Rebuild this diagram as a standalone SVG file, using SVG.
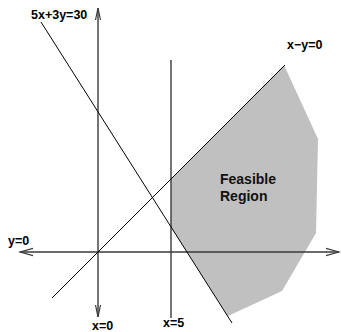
<svg xmlns="http://www.w3.org/2000/svg" width="341" height="332" viewBox="0 0 341 332">
<style>
.axis{stroke:#3a3a3a;stroke-width:1.4;fill:none}
.line{stroke:#000;stroke-width:1;fill:none}
.head{stroke:#3a3a3a;stroke-width:1.2;fill:none}
.lbl{font-family:"Liberation Sans",Arial,sans-serif;font-weight:bold;font-size:12.5px;fill:#000}
.big{font-family:"Liberation Sans",Arial,sans-serif;font-weight:bold;font-size:14px;fill:#111}
</style>
<rect width="341" height="332" fill="#fff"/>
<g id="region">
<polygon points="171,179 284,65 318,139 316,233 282,291 228,316 171,227" fill="#c0c0c0"/>
<text class="big" x="220" y="183.5">Feasible</text>
<text class="big" x="220" y="200.5">Region</text>
</g>
<g id="connectors">
<line class="axis" x1="98" y1="8" x2="98" y2="317"/>
<path class="head" d="M95.5,20 L98,8 L100.5,20"/>
<path class="head" d="M95.5,305 L98,317 L100.5,305"/>
<line class="axis" x1="20" y1="252" x2="339" y2="252"/>
<path class="head" d="M33,248.3 L20,252 L33,255.7"/>
<path class="head" d="M326,248.3 L339,252 L326,255.7"/>
<line class="axis" x1="171" y1="60" x2="171" y2="318"/>
<line class="line" x1="41" y1="22" x2="232" y2="323"/>
<line class="line" x1="52" y1="298" x2="285" y2="65"/>
</g>
<g id="labels">
<text class="lbl" x="31" y="19">5x+3y=30</text>
<text class="lbl" x="287" y="49">x−y=0</text>
<text class="lbl" x="8" y="245">y=0</text>
<text class="lbl" x="92" y="330">x=0</text>
<text class="lbl" x="163" y="327">x=5</text>
</g>
</svg>
